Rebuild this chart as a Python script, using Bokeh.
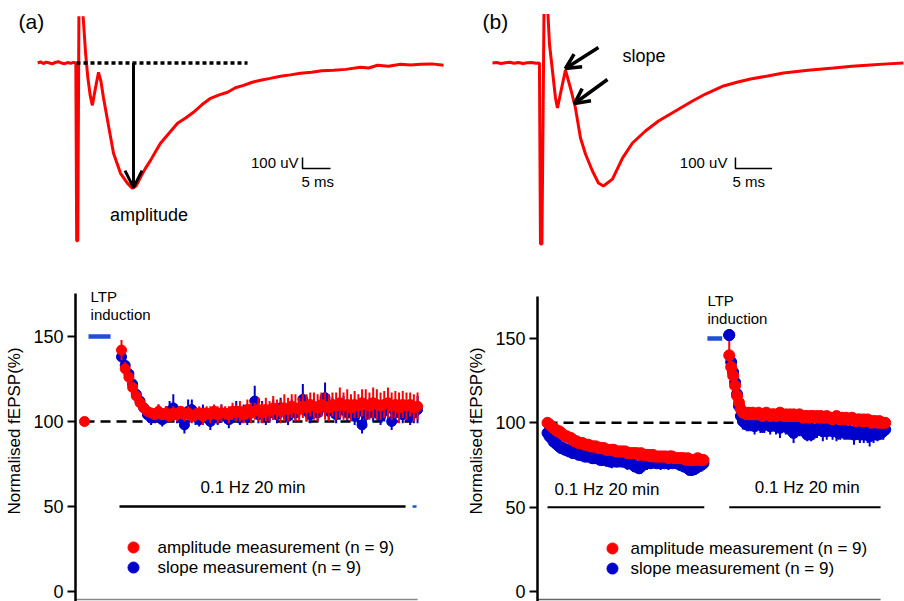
import numpy as np
from bokeh.plotting import figure
from bokeh.models import Arrow, OpenHead, Label, FixedTicker, Range1d
from bokeh.layouts import column, row
from bokeh.embed import file_html
from bokeh.resources import INLINE
from bokeh.core.properties import value

nan = float("nan")

# ---------------- data: example fEPSP traces (ms, uV) ----------------
trace_a_t = [-7.1, -6.6, -6.1, -5.6, -5.0, -4.5, -4.0, -3.4, -2.9, -2.3, -1.8, -1.2, -0.7, -0.3,
             -0.15, 0.05, 0.25, nan, 1.0, 1.45, 1.85, 2.25, 2.65, 3.2, 3.75, 4.2, 4.64, 5.36,
             6.43, 7.68, 8.93, 9.82, 10.5, 11.25, 12.1, 13.04, 14.0, 14.82, 16.3, 17.86, 19.3,
             20.71, 22.2, 23.75, 25.3, 26.79, 28.2, 29.64, 31.2, 32.68, 34.4, 36.25, 38.0, 39.82,
             41.8, 43.6, 45.71, 47.9, 50.5, 52.0, 53.57, 55.5, 57.7, 59.5, 61.25, 63.3, 65.36]
trace_a_v = [0, 10, -5, 8, 0, -8, 5, 12, 0, -6, 4, -3, 6, 0,
             -1615, -1615, 425, nan, 425, 86, -135, -290, -385, -230, -85, -170, -315, -521,
             -821, -1003, -1094, -1139, -1115, -1039, -960, -885, -800, -730, -640, -548, -500,
             -448, -380, -321, -290, -266, -225, -203, -175, -157, -140, -121, -108, -94,
             -85, -70, -66, -58, -39, -45, -21, -30, -12, -18, -12, -8, -21]

trace_b_t = [-6.55, -6.0, -5.4, -4.8, -4.2, -3.6, -3.0, -2.4, -1.8, -1.2, -0.6, -0.14,
             0.0, 0.2, 0.48, nan, 1.02, 1.23, 1.64, 2.05, 2.32, 2.86, 3.41, 4.09, 4.77, 5.46,
             6.14, 7.09, 7.91, 8.59, 9.82, 11.19, 12.55, 14.32, 16.1, 18.42, 20.74, 22.51, 24.97,
             26.8, 28.65, 31.0, 33.15, 36.5, 39.97, 42.5, 45.02, 47.3, 49.52]
trace_b_v = [0, 5, -4, 3, 6, -2, 4, -5, 2, 5, -3, 0,
             -1645, -1645, 445, nan, 445, 173, -73, -318, -409, -236, -64, -227, -409, -682,
             -827, -982, -1091, -1118, -1055, -864, -727, -618, -527, -436, -345, -282, -209,
             -175, -145, -118, -91, -65, -45, -30, -18, -8, 0]

# ---------------- data: panel (c), 20 min after LTP induction ----------------
c_baseline_t = [-2.5]
c_baseline_v = [100]
c_amp = [142, 131, 126, 120, 115, 111, 108, 106, 105, 104,
         106, 104, 105, 103, 105, 104, 106, 104, 105, 103,
         104, 105, 103, 105, 104, 106, 104, 105, 105, 104,
         106, 105, 106, 104, 107, 105, 106, 107, 105, 107,
         106, 108, 107, 106, 108, 107, 109, 108, 107, 109,
         108, 110, 109, 108, 110, 109, 108, 110, 109, 111,
         109, 110, 108, 110, 109, 111, 110, 109, 111, 110,
         109, 110, 111, 109, 110, 108, 110, 109, 110, 108, 109]
c_amp_err = [6, 4, 4, 3, 3, 3, 3, 3, 3, 3,
             4, 3, 4, 3, 4, 4, 3, 4, 4, 4,
             4, 4, 5, 4, 5, 4, 5, 5, 4, 5,
             5, 5, 6, 5, 6, 6, 5, 7, 6, 7,
             6, 7, 6, 7, 8, 7, 7, 8, 7, 7,
             8, 7, 8, 8, 7, 8, 8, 7, 8, 9,
             8, 9, 8, 8, 7, 8, 9, 8, 9, 9,
             8, 8, 9, 8, 8, 9, 8, 8, 7, 8, 8]
c_slope = [138, 133, 128, 122, 116, 112, 108, 104, 102, 103,
           105, 101, 104, 106, 108, 104, 102, 98, 106, 107,
           103, 101, 105, 103, 100, 104, 102, 105, 103, 101,
           104, 106, 102, 105, 103, 107, 112, 104, 106, 103,
           105, 107, 104, 108, 106, 103, 107, 105, 108, 113,
           106, 104, 108, 105, 109, 114, 106, 108, 104, 107,
           109, 105, 108, 103, 106, 98, 104, 108, 105, 107,
           103, 106, 108, 100, 105, 107, 104, 106, 103, 105, 107]
c_slope_err = [4, 4, 4, 3, 3, 3, 3, 3, 4, 4,
               5, 4, 5, 6, 8, 5, 4, 5, 7, 6,
               5, 4, 5, 4, 5, 5, 4, 5, 4, 5,
               5, 6, 4, 5, 5, 6, 9, 5, 6, 5,
               5, 6, 5, 6, 5, 5, 6, 5, 6, 9,
               6, 5, 6, 5, 6, 9, 6, 6, 5, 6,
               6, 5, 6, 5, 6, 5, 5, 6, 5, 6,
               5, 6, 6, 5, 6, 6, 5, 6, 5, 6, 8]

# ---------------- data: panel (d), 20 min before and 20 min after LTP ----------------
d1_amp = [100, 99, 98, 97, 96, 95, 95, 94, 93, 92,
          92, 91, 91, 90, 89, 89, 88, 88, 88, 87,
          87, 87, 86, 86, 86, 86, 85, 85, 85, 85,
          84, 84, 84, 84, 84, 83, 83, 83, 83, 83,
          83, 82, 82, 82, 82, 82, 82, 81, 82, 81,
          81, 81, 81, 80, 81, 80, 80, 80, 80, 80,
          80, 80, 79, 80, 80, 79, 79, 79, 79, 79,
          79, 78, 79, 78, 78, 78, 78, 79, 78, 78, 78]
d1_amp_err = [2, 2, 2, 2, 2, 2, 2, 2, 2, 2,
              2, 2, 2, 3, 2, 2, 2, 2, 3, 2,
              2, 2, 3, 2, 2, 3, 2, 2, 2, 3,
              2, 2, 3, 2, 2, 3, 2, 3, 2, 2,
              3, 2, 2, 3, 2, 3, 2, 2, 3, 2,
              3, 2, 2, 3, 2, 2, 3, 2, 3, 2,
              2, 3, 2, 2, 3, 2, 3, 2, 2, 3,
              2, 3, 2, 2, 3, 2, 3, 2, 2, 3, 3]
d1_slope = [94, 92, 91, 89, 88, 87, 86, 85, 85, 84,
            84, 83, 83, 82, 82, 82, 81, 81, 81, 80,
            80, 80, 80, 79, 79, 79, 79, 78, 78, 78,
            78, 78, 77, 77, 78, 77, 77, 78, 77, 77,
            77, 76, 76, 76, 75, 74, 74, 73, 74, 76,
            77, 76, 77, 76, 77, 77, 76, 77, 76, 77,
            76, 77, 76, 80, 76, 77, 76, 76, 75, 75,
            74, 74, 73, 72, 72, 73, 73, 74, 75, 75, 76]
d1_slope_err = [3, 3, 3, 3, 3, 3, 3, 3, 3, 3,
                3, 3, 3, 3, 3, 3, 3, 3, 3, 3,
                3, 3, 4, 3, 3, 3, 4, 3, 3, 3,
                4, 3, 3, 4, 3, 3, 3, 4, 3, 3,
                3, 4, 3, 3, 4, 3, 3, 3, 4, 3,
                3, 4, 3, 3, 3, 4, 3, 3, 4, 3,
                3, 3, 4, 3, 3, 4, 3, 3, 3, 4,
                3, 3, 4, 3, 3, 3, 4, 3, 3, 4, 4]
d2_amp = [140, 133, 128, 122, 116, 112, 108, 106, 106, 105,
          106, 105, 106, 105, 105, 106, 105, 104, 105, 106,
          105, 104, 105, 105, 104, 105, 106, 105, 104, 105,
          104, 105, 104, 105, 104, 104, 105, 104, 103, 104,
          104, 103, 104, 104, 103, 104, 103, 104, 103, 103,
          104, 103, 103, 102, 103, 104, 103, 102, 103, 102,
          103, 102, 102, 103, 102, 101, 102, 102, 101, 102,
          101, 102, 101, 100, 101, 101, 100, 101, 100, 100, 100]
d2_amp_err = [10, 4, 4, 3, 3, 3, 3, 3, 3, 3,
              3, 3, 3, 3, 3, 3, 3, 3, 3, 3,
              3, 3, 3, 3, 3, 3, 3, 3, 3, 3,
              3, 3, 3, 3, 3, 3, 3, 3, 3, 3,
              3, 3, 3, 3, 3, 3, 3, 3, 3, 3,
              3, 3, 3, 3, 3, 3, 3, 3, 3, 3,
              3, 3, 3, 3, 3, 3, 3, 3, 3, 3,
              3, 3, 3, 3, 3, 3, 3, 3, 3, 3, 3]
d2_slope = [152, 136, 130, 124, 117, 110, 104, 101, 100, 99,
            100, 99, 100, 98, 99, 100, 99, 98, 99, 100,
            99, 98, 99, 100, 98, 99, 97, 98, 99, 98,
            97, 98, 96, 94, 97, 98, 97, 96, 97, 98,
            93, 96, 93, 96, 95, 96, 97, 96, 95, 96,
            95, 96, 97, 95, 96, 95, 94, 95, 96, 94,
            95, 94, 95, 94, 93, 94, 95, 93, 94, 93,
            94, 93, 92, 94, 93, 94, 93, 95, 94, 95, 96]
d2_slope_err = [3, 4, 4, 4, 4, 4, 4, 5, 4, 4,
                5, 4, 4, 5, 4, 4, 5, 4, 5, 4,
                4, 5, 4, 4, 5, 4, 6, 4, 4, 5,
                4, 5, 4, 6, 4, 4, 5, 4, 5, 4,
                4, 5, 4, 5, 4, 5, 4, 4, 6, 4,
                5, 4, 4, 5, 4, 6, 4, 5, 4, 4,
                5, 4, 5, 4, 6, 4, 4, 5, 4, 5,
                4, 5, 6, 4, 5, 4, 4, 5, 4, 5, 4]

# sampling grid: one averaged point every 15 s (minutes)
c_t = np.arange(len(c_amp)) * 0.25
d1_t = np.arange(len(d1_amp)) * 0.25
d2_t = 23.3 + np.arange(len(d2_amp)) * 0.25

legend_labels = ["amplitude measurement (n = 9)", "slope measurement (n = 9)"]
y_ticks = [0, 50, 100, 150]

for arr in (c_amp_err, c_slope, c_slope_err):
    assert len(arr) == len(c_amp), ("c", len(arr))
for arr in (d1_amp_err, d1_slope, d1_slope_err):
    assert len(arr) == len(d1_amp), ("d1", len(arr))
for arr in (d2_amp_err, d2_slope, d2_slope_err):
    assert len(arr) == len(d2_amp), ("d2", len(arr))

FONT = "Liberation Sans"
RED = "#ff0000"
BLUE = "#0000cc"
LTPBLUE = "#1f4fd6"


def txt(p, x, y, s, size, align="left", baseline="middle"):
    p.text(x=[x], y=[y], text=[s], text_font=value(FONT), text_font_size=size,
           text_align=align, text_baseline=baseline, text_color="black")


def trace_fig(xr, yr):
    p = figure(width=452, height=260, x_range=Range1d(*xr), y_range=Range1d(*yr),
               x_axis_type=None, y_axis_type=None, toolbar_location=None,
               output_backend="svg", min_border_left=0, min_border_right=0,
               min_border_top=0, min_border_bottom=0)
    p.outline_line_color = None
    p.background_fill_color = "white"
    p.border_fill_color = "white"
    return p


def ts_fig(xr, yr, left, top):
    p = figure(width=452, height=341, x_range=Range1d(*xr), y_range=Range1d(*yr),
               x_axis_type=None, toolbar_location=None, output_backend="svg",
               min_border_left=left, min_border_right=0, min_border_top=0,
               min_border_bottom=0)
    p.outline_line_color = None
    p.ygrid.visible = False
    ax = p.yaxis[0]
    ax.ticker = FixedTicker(ticks=y_ticks)
    ax.bounds = (-10, top)
    ax.axis_line_width = 2.5
    ax.axis_line_color = "black"
    ax.major_tick_line_width = 2
    ax.major_tick_line_color = "black"
    ax.major_tick_out = 8
    ax.major_tick_in = 0
    ax.minor_tick_out = 0
    ax.minor_tick_in = 0
    ax.major_label_text_font = FONT
    ax.major_label_text_font_size = "18px"
    ax.major_label_text_color = "black"
    ax.major_label_standoff = 4
    ax.axis_label = "Normalised fEPSP(%)"
    ax.axis_label_text_font = FONT
    ax.axis_label_text_font_size = "17px"
    ax.axis_label_text_font_style = "normal"
    ax.axis_label_text_color = "black"
    ax.axis_label_standoff = 6
    return p


def errpoints(p, t, v, e, color, size=10):
    v = np.asarray(v, float)
    e = np.asarray(e, float)
    p.segment(x0=t, y0=v - e, x1=t, y1=v + e, line_color=color, line_width=2)
    p.scatter(x=t, y=v, size=size, fill_color=color, line_color=color)


# ---------------- (a) amplitude ----------------
pa = trace_fig((-13.75, 66.96), (-1795, 568))
pa.line(np.array(trace_a_t), np.array(trace_a_v), line_color=RED, line_width=3)
pa.line([-0.18, 30.36], [0, 0], line_color="black", line_width=3.5, line_dash="4 3")
pa.add_layout(Arrow(end=OpenHead(size=17, line_width=3, line_color="black"),
                    x_start=10.0, y_start=0, x_end=10.0, y_end=-1132,
                    line_width=3, line_color="black"))
txt(pa, 12.77, -1386, "amplitude", "18px", align="center")
pa.line([40.18, 40.18, 45.18], [-859, -959, -959], line_color="black", line_width=1.5)
txt(pa, 39.46, -905, "100 uV", "15px", align="right")
txt(pa, 40.0, -1077, "5 ms", "15px")
txt(pa, -10.54, 373, "(a)", "21px")

# ---------------- (b) slope ----------------
pb = trace_fig((-12.0, 49.66), (-1795, 568))
pb.line(np.array(trace_b_t), np.array(trace_b_v), line_color=RED, line_width=3)
for xs, ys, xe, ye in [(7.91, 141, 3.41, -50), (9.14, -150, 4.64, -368)]:
    pb.add_layout(Arrow(end=OpenHead(size=15, line_width=3.5, line_color="black"),
                        x_start=xs, y_start=ys, x_end=xe, y_end=ye,
                        line_width=3.5, line_color="black"))
txt(pb, 11.19, 68, "slope", "18px")
pb.line([26.6, 26.6, 31.6], [-859, -959, -959], line_color="black", line_width=1.5)
txt(pb, 25.5, -905, "100 uV", "15px", align="right")
txt(pb, 26.2, -1077, "5 ms", "15px")
txt(pb, -7.91, 373, "(b)", "21px")

# ---------------- (c) ----------------
pc = ts_fig((-3.108, 22.36), (-5.88, 194.7), 75, 175.3)
pc.line([-3.108, 20.0], [-4.7, -4.7], line_color="#888888", line_width=1.5)
pc.line([-2.5, 19.66], [100, 100], line_color="black", line_width=2.5, line_dash="10 6")
pc.line([-2.23, -0.74], [150, 150], line_color=LTPBLUE, line_width=4.5)
pc.line([-0.135, 19.19], [50, 50], line_color="black", line_width=2.5)
pc.line([19.66, 19.93], [50, 50], line_color=LTPBLUE, line_width=2.5)
errpoints(pc, c_t, c_slope, c_slope_err, BLUE)
errpoints(pc, c_t, c_amp, c_amp_err, RED)
pc.scatter(x=c_baseline_t, y=c_baseline_v, size=10, fill_color=RED, line_color=RED)
txt(pc, -2.09, 173.5, "LTP", "15px")
txt(pc, -2.09, 163.2, "induction", "15px")
txt(pc, 8.88, 61.2, "0.1 Hz 20 min", "17px", align="center")
pc.scatter(x=[0.81], y=[25.9], size=11, fill_color=RED, line_color=RED)
pc.scatter(x=[0.81], y=[14.1], size=11, fill_color=BLUE, line_color=BLUE)
txt(pc, 2.43, 25.9, legend_labels[0], "17px")
txt(pc, 2.43, 14.1, legend_labels[1], "17px")
pc.add_layout(Label(x=-6.96, y=180, text="(c)", text_font=FONT, text_font_size="21px",
                    text_baseline="middle", text_color="black"))

# ---------------- (d) ----------------
pd_ = ts_fig((-1.282, 45.77), (-5.93, 196.2), 85, 174.9)
pd_.line([-1.282, 42.7], [-4.7, -4.7], line_color="#666666", line_width=1.5)
pd_.line([0, 43.3], [100, 100], line_color="black", line_width=2.5, line_dash="10 6")
pd_.line([20.5, 22.4], [150, 150], line_color=LTPBLUE, line_width=4.5)
pd_.line([0, 20.1], [50, 50], line_color="black", line_width=2)
pd_.line([23.3, 42.7], [50, 50], line_color="black", line_width=2)
errpoints(pd_, d1_t, d1_slope, d1_slope_err, BLUE, 11)
errpoints(pd_, d1_t, d1_amp, d1_amp_err, RED, 11)
errpoints(pd_, d2_t, d2_slope, d2_slope_err, BLUE, 11)
errpoints(pd_, d2_t, d2_amp, d2_amp_err, RED, 11)
pd_.scatter(x=[d2_t[0]], y=[d2_slope[0]], size=11, fill_color=BLUE, line_color=BLUE)
txt(pd_, 20.5, 172.5, "LTP", "15px")
txt(pd_, 20.5, 161.8, "induction", "15px")
txt(pd_, 7.63, 60.5, "0.1 Hz 20 min", "17px", align="center")
txt(pd_, 33.3, 61.6, "0.1 Hz 20 min", "17px", align="center")
pd_.scatter(x=[8.33], y=[25.5], size=11, fill_color=RED, line_color=RED)
pd_.scatter(x=[8.33], y=[13.6], size=11, fill_color=BLUE, line_color=BLUE)
txt(pd_, 10.64, 25.5, legend_labels[0], "17px")
txt(pd_, 10.64, 13.6, legend_labels[1], "17px")
pd_.add_layout(Label(x=-8.59, y=182.6, text="(d)", text_font=FONT, text_font_size="21px",
                     text_baseline="middle", text_color="black"))

layout = column(row(pa, pb), row(pc, pd_))
open("out.html", "w").write(file_html(layout, INLINE))
